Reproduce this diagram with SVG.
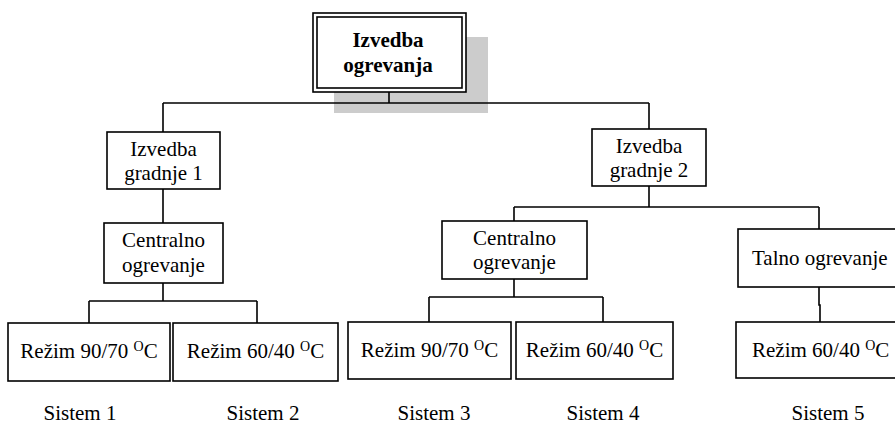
<svg xmlns="http://www.w3.org/2000/svg" width="895" height="425" viewBox="0 0 895 425">
<style>
text{font-family:"Liberation Serif","Times New Roman",serif;font-size:21px;fill:#000}
.c{text-anchor:middle}
.b{font-weight:bold}
.sup{font-size:14px}
rect.n{fill:#fff;stroke:#000;stroke-width:1.6}
.ln{fill:none;stroke:#000;stroke-width:1.6}
</style>
<rect x="0" y="0" width="895" height="425" fill="#fff"/>
<rect id="shadow" x="334" y="37" width="154" height="76" fill="#cccccc"/>
<g id="connectors">
<path class="ln" d="M389,92V103M163,103H649M163,103V132M649,103V129"/>
<path class="ln" d="M163,189V223M163,283V301M89,301H257M89,301V323M257,301V323"/>
<path class="ln" d="M649,186V207M514,207H819M514,207V221M819,207V229"/>
<path class="ln" d="M514,279V297M429,297H603M429,297V322M603,297V322"/>
<path class="ln" d="M819,287V305H820V322"/>
</g>
<g id="root">
<rect class="n" x="313" y="13" width="153" height="79"/>
<rect class="n" x="317" y="17" width="145" height="71"/>
<text class="c b" x="388" y="47">Izvedba</text>
<text class="c b" x="388" y="72">ogrevanja</text>
</g>
<g id="ig1">
<rect class="n" x="107" y="132" width="113" height="57"/>
<text class="c" x="163.5" y="156">Izvedba</text>
<text class="c" x="163.5" y="180">gradnje 1</text>
</g>
<g id="co1">
<rect class="n" x="104" y="223" width="119" height="60"/>
<text class="c" x="163.5" y="247">Centralno</text>
<text class="c" x="163.5" y="272">ogrevanje</text>
</g>
<g id="ig2">
<rect class="n" x="592" y="129" width="114" height="57"/>
<text class="c" x="649" y="153">Izvedba</text>
<text class="c" x="649" y="177">gradnje 2</text>
</g>
<g id="co2">
<rect class="n" x="442" y="221" width="145" height="58"/>
<text class="c" x="514.5" y="245">Centralno</text>
<text class="c" x="514.5" y="269">ogrevanje</text>
</g>
<g id="talno">
<rect class="n" x="738" y="229" width="170" height="58"/>
<text x="752" y="265">Talno ogrevanje</text>
</g>
<g id="r1">
<rect class="n" x="8" y="323" width="162" height="58"/>
<text class="c" x="89" y="358">Režim 90/70 <tspan class="sup" dy="-7">O</tspan><tspan dy="7">C</tspan></text>
</g>
<g id="r2">
<rect class="n" x="173" y="323" width="165" height="58"/>
<text class="c" x="255.5" y="358">Režim 60/40 <tspan class="sup" dy="-7">O</tspan><tspan dy="7">C</tspan></text>
</g>
<g id="r3">
<rect class="n" x="348" y="322" width="163" height="57"/>
<text class="c" x="429.5" y="357">Režim 90/70 <tspan class="sup" dy="-7">O</tspan><tspan dy="7">C</tspan></text>
</g>
<g id="r4">
<rect class="n" x="516" y="322" width="157" height="57"/>
<text class="c" x="594.5" y="357">Režim 60/40 <tspan class="sup" dy="-7">O</tspan><tspan dy="7">C</tspan></text>
</g>
<g id="r5">
<rect class="n" x="736" y="322" width="170" height="56"/>
<text x="752" y="357">Režim 60/40 <tspan class="sup" dy="-7">O</tspan><tspan dy="7">C</tspan></text>
</g>
<g id="labels">
<text class="c" x="80" y="420">Sistem 1</text>
<text class="c" x="263" y="420">Sistem 2</text>
<text class="c" x="434" y="420">Sistem 3</text>
<text class="c" x="603" y="420">Sistem 4</text>
<text class="c" x="828" y="420">Sistem 5</text>
</g>
</svg>
